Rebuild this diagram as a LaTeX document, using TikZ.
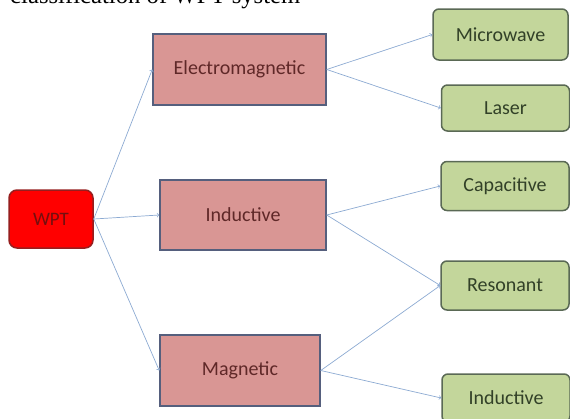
\documentclass[tikz,border=0pt]{standalone}
\usepackage{fontspec}
\setmainfont{Liberation Serif}
\newfontfamily\boxfont{Carlito}
\usepackage{tikz}

\definecolor{wptedge}{RGB}{150,30,30}
\definecolor{wpttext}{RGB}{115,15,15}
\definecolor{kindfill}{RGB}{217,150,148}
\definecolor{kindedge}{RGB}{85,95,125}
\definecolor{kindtext}{RGB}{95,40,40}
\definecolor{leaffill}{RGB}{195,214,155}
\definecolor{leafedge}{RGB}{90,105,85}
\definecolor{leaftext}{RGB}{50,65,40}
\definecolor{linkblue}{RGB}{140,170,210}

\begin{document}
\begin{tikzpicture}[x=1pt,y=-1pt,
  root/.style={draw=wptedge, line width=1.5pt, fill=red, rounded corners=8pt, minimum width=84pt, minimum height=58pt, text=wpttext, font=\boxfont\fontsize{19}{23}\selectfont},
  kind/.style={draw=kindedge, line width=1.5pt, fill=kindfill, minimum height=70pt, text=kindtext, font=\boxfont\fontsize{20}{24}\selectfont},
  leaf/.style={draw=leafedge, line width=1.5pt, fill=leaffill, rounded corners=6pt, minimum width=128pt, minimum height=49pt, text=leaftext, font=\boxfont\fontsize{20}{24}\selectfont},
  link/.style={->, draw=linkblue, line width=0.7pt}]
\path[use as bounding box, clip] (0,0) rectangle (570,418);

\node[anchor=base west, inner sep=0pt, font=\fontsize{24.7}{28}\selectfont](title) at (10,3) {classification of WPT system};

\node[root](wpt) at (51,219) {WPT};
\node[kind, minimum width=173pt, minimum height=71pt](em) at (239.5,69.5) {Electromagnetic};
\node[kind, minimum width=166pt](ind) at (243,215) {Inductive};
\node[kind, minimum width=160pt, minimum height=71pt](mag) at (240,370.5) {Magnetic};

\node[leaf, minimum width=135pt, minimum height=51pt](micro) at (500.5,34.5) {Microwave};
\node[leaf, minimum height=46pt](laser) at (505.5,108) {Laser};
\node[leaf](cap) at (505,186) {Capacitive};
\node[leaf](res) at (505,285.5) {Resonant};
\node[leaf, minimum height=48pt](indc) at (506,398) {Inductive};

\draw[link] (wpt.east) -- (em.west);
\draw[link] (wpt.east) -- (ind.west);
\draw[link] (wpt.east) -- (mag.west);
\draw[link] (em.east) -- (micro.west);
\draw[link] (em.east) -- (laser.west);
\draw[link] (ind.east) -- (cap.west);
\draw[link] (ind.east) -- (res.west);
\draw[link] (mag.east) -- (res.west);
\draw[link] (mag.east) -- (indc.west);
\end{tikzpicture}
\end{document}
